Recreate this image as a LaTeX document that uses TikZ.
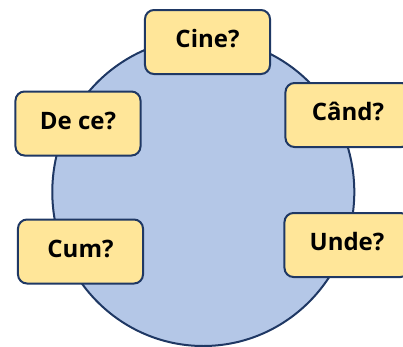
\documentclass[tikz,border=0pt]{standalone}
\usepackage{fontspec}
\setmainfont{Open Sans}
\definecolor{navy}{HTML}{1F3864}
\definecolor{lightblue}{HTML}{B4C7E7}
\definecolor{paleyellow}{HTML}{FFE699}
\tikzset{
  qbox/.style={draw=navy, line width=2bp, fill=paleyellow, rounded corners=9bp,
    minimum width=125bp, minimum height=64bp, inner sep=0pt,
    text height=16bp, text depth=5bp,
    font=\fontsize{24bp}{28bp}\selectfont\bfseries},
  bigcircle/.style={draw=navy, line width=2bp, fill=lightblue}
}
\begin{document}
\begin{tikzpicture}[x=1bp, y=-1bp]
\useasboundingbox (0,0) rectangle (403,347);
\path[bigcircle] (203.3,192) ellipse [x radius=151, y radius=154];
\node[qbox] (cine) at (207.5,42) {Cine?};
\node[qbox] (dece) at (78,123.5) {De ce?};
\node[qbox] (cand) at (348,115) {Când?};
\node[qbox] (cum) at (80.5,251.5) {Cum?};
\node[qbox] (unde) at (347,245) {Unde?};
\end{tikzpicture}
\end{document}
